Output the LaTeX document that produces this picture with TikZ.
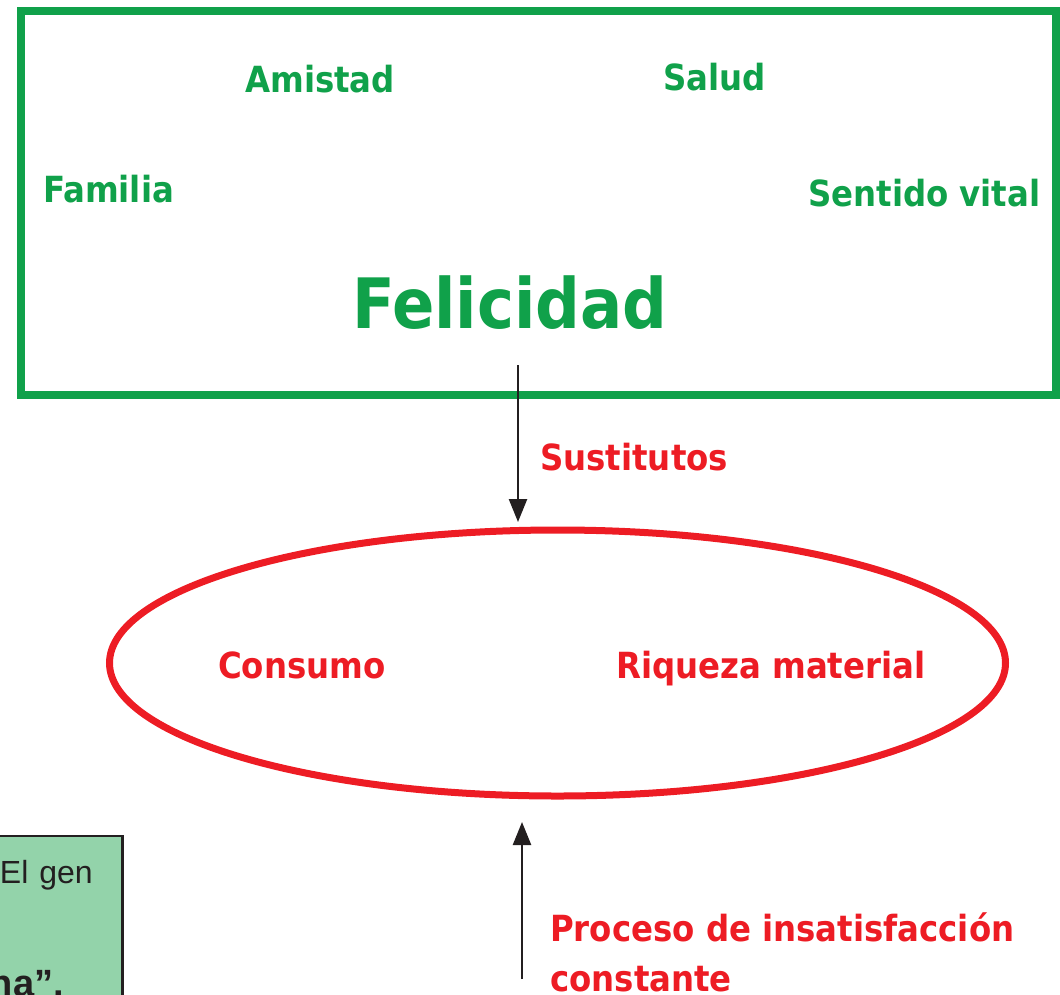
\documentclass[tikz,border=0pt]{standalone}
\usepackage{fontspec}
\usetikzlibrary{arrows.meta}
\newfontfamily\dvc{DejaVu Sans Condensed}[BoldFont={DejaVu Sans Condensed Bold}]
\newfontfamily\libsans{Liberation Sans}
\definecolor{boxgreen}{HTML}{10A14A}
\definecolor{ovalred}{HTML}{ED1C24}
\definecolor{notefill}{HTML}{93D3AA}
\definecolor{inkdark}{HTML}{231F20}
\tikzset{
  lbl/.style={inner sep=0pt, anchor=base west, font=\dvc\bfseries\fontsize{36}{42}\selectfont},
  greenlbl/.style={lbl, text=boxgreen},
  redlbl/.style={lbl, text=ovalred},
  conn/.style={draw=inkdark, line width=2.5pt, -{Triangle[length=23pt,width=18pt]}},
}
\begin{document}
\begin{tikzpicture}[x=1pt,y=-1pt]
\useasboundingbox (0,0) rectangle (1060,994);
% frame
\draw[boxgreen, line width=8pt] (21,11) rectangle (1056,394.5);
\node[greenlbl] (amistad) at (245,92) {Amistad};
\node[greenlbl] (salud) at (663,90) {Salud};
\node[greenlbl] (familia) at (43,202) {Familia};
\node[greenlbl] (sentido) at (808,206) {Sentido vital};
\node[greenlbl, font=\dvc\bfseries\fontsize{69.5}{80}\selectfont] (felicidad) at (352,328) {Felicidad};
% oval
\draw[ovalred, line width=7pt] (557.5,663) ellipse [x radius=448, y radius=133];
\node[redlbl] (consumo) at (218,678) {Consumo};
\node[redlbl] (riqueza) at (616,678) {Riqueza material};
% arrows
\coordinate (topstart) at (518,365);
\coordinate (toptip) at (518,522);
\draw[conn] (topstart) -- (toptip);
\node[redlbl] (sustitutos) at (540,470) {Sustitutos};
\coordinate (botstart) at (522,979);
\coordinate (bottip) at (522,822);
\draw[conn] (botstart) -- (bottip);
\node[redlbl, font=\dvc\bfseries\fontsize{36}{50}\selectfont] (proceso) at (550,941) {Proceso de insatisfacción};
\node[redlbl, font=\dvc\bfseries\fontsize{36}{50}\selectfont] (constante) at (550,991) {constante};
% partial note box
\draw[fill=notefill, draw=inkdark, line width=2.5pt] (-10,836) rectangle (122.5,1010);
\node[inner sep=0pt, anchor=base east, text=inkdark, font=\libsans\fontsize{32}{38}\selectfont] (elgen) at (93,883) {El\hspace{11pt}gen};
\node[inner sep=0pt, anchor=base east, text=inkdark, font=\libsans\bfseries\fontsize{38}{44}\selectfont] (na) at (64,996) {na”.};
\end{tikzpicture}
\end{document}
